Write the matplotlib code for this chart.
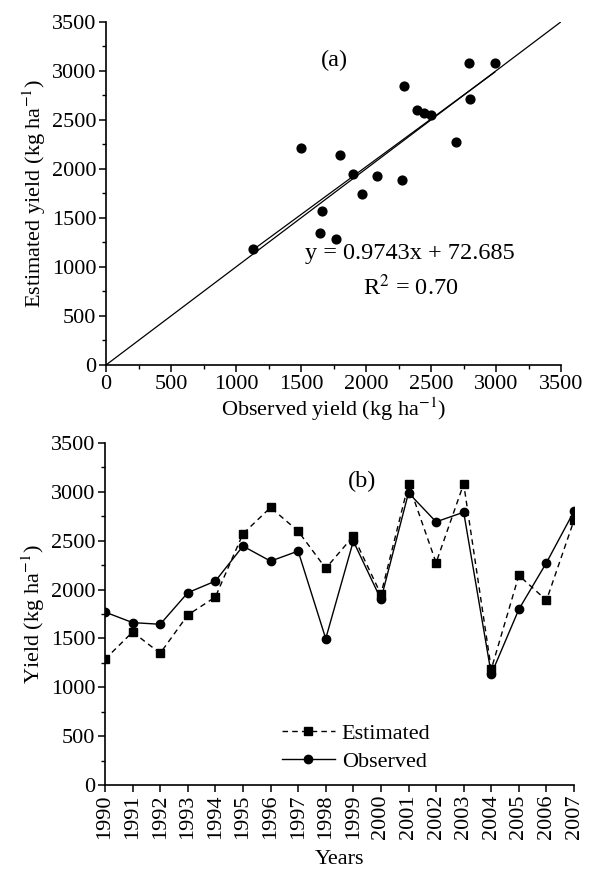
import matplotlib.pyplot as plt
import numpy as np
from matplotlib.ticker import MultipleLocator

plt.rcParams["font.family"] = ["Liberation Serif", "DejaVu Serif"]
plt.rcParams["mathtext.fontset"] = "stix"

years = list(range(1990, 2008))
observed = [1770, 1662, 1645, 1968, 2087, 2445, 2291, 2394, 1498,
            2496, 1900, 2990, 2693, 2792, 1134, 1798, 2275, 2802]
estimated = [1287, 1566, 1348, 1740, 1924, 2571, 2840, 2598, 2217,
             2547, 1951, 3082, 2275, 3082, 1185, 2145, 1890, 2710]
slope = 0.9743
intercept = 72.685
r2 = 0.70

FS = 16


def style_axis(ax):
    for s in ("top", "right"):
        ax.spines[s].set_visible(False)
    for s in ("left", "bottom"):
        ax.spines[s].set_linewidth(1.2)
    ax.tick_params(which="major", direction="out", length=5, width=1.1,
                   labelsize=FS, pad=2)
    ax.tick_params(which="minor", direction="out", length=3, width=1.0)


fig = plt.figure(figsize=(5.94, 8.71), dpi=100)

# (a) scatter
ax1 = fig.add_axes([0.1785, 0.581, 0.766, 0.394])
ax1.plot([0, 3500], [0, 3500], color="black", lw=0.9)
xs = np.array([min(observed), max(observed)])
ax1.plot(xs, slope * xs + intercept, color="black", lw=0.9)
ax1.scatter(observed, estimated, s=40, color="black", zorder=3)
ax1.set_xlim(0, 3500)
ax1.set_ylim(0, 3500)
ax1.xaxis.set_major_locator(MultipleLocator(500))
ax1.xaxis.set_minor_locator(MultipleLocator(250))
ax1.yaxis.set_major_locator(MultipleLocator(500))
ax1.yaxis.set_minor_locator(MultipleLocator(250))
style_axis(ax1)
ax1.set_xlabel("Observed yield (kg ha$^{\\mathrm{-1}}$)", fontsize=FS, labelpad=1)
ax1.set_ylabel("Estimated yield (kg ha$^{\\mathrm{-1}}$)", fontsize=FS, labelpad=3)
ax1.text(1760, 3110, "(a)", fontsize=FS + 1.5, ha="center", va="center")
ax1.text(2340, 1140, f"y = {slope}x + {intercept}", fontsize=FS + 1.5,
         ha="center", va="center")
ax1.text(2340, 790, f"R$^2$ = {r2:.2f}", fontsize=FS + 1.5,
         ha="center", va="center")

# (b) time series
ax2 = fig.add_axes([0.1768, 0.0987, 0.7896, 0.3927])
ax2.plot(years, estimated, color="black", lw=1.0, ls=(0, (4, 3)),
         marker="s", ms=5.5, label="Estimated")
ax2.plot(years, observed, color="black", lw=1.0, ls="-",
         marker="o", ms=6, label="Observed")
ax2.set_xlim(1990, 2007)
ax2.set_ylim(0, 3500)
ax2.set_xticks(years)
ax2.set_xticklabels([str(y) for y in years], rotation=90)
ax2.yaxis.set_major_locator(MultipleLocator(500))
ax2.yaxis.set_minor_locator(MultipleLocator(250))
style_axis(ax2)
ax2.set_xlabel("Years", fontsize=FS, labelpad=8)
ax2.set_ylabel("Yield (kg ha$^{\\mathrm{-1}}$)", fontsize=FS, labelpad=3)
ax2.text(1999.3, 3104, "(b)", fontsize=FS + 1.5, ha="center", va="center")
ax2.legend(loc="center", bbox_to_anchor=(0.535, 0.11), frameon=False,
           fontsize=FS, handlelength=2.4, handletextpad=0.3,
           labelspacing=0.35, borderpad=0)

fig.savefig("out.png", dpi=100)
